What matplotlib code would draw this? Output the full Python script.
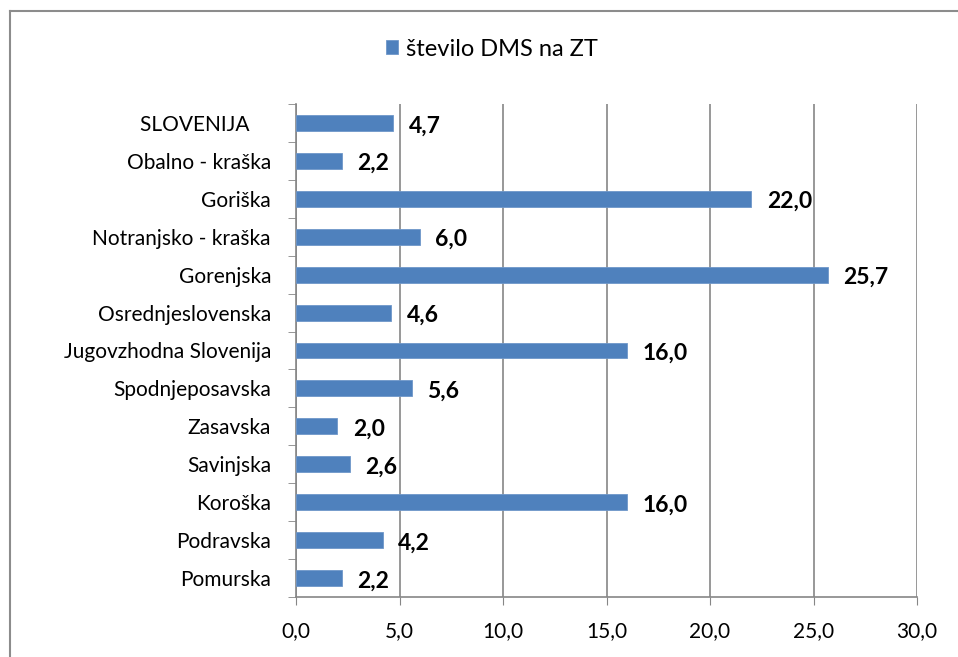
import matplotlib
matplotlib.use("Agg")
import matplotlib.pyplot as plt
from matplotlib.lines import Line2D

categories = ["SLOVENIJA    ", "Obalno - kraška", "Goriška", "Notranjsko - kraška", "Gorenjska",
              "Osrednjeslovenska", "Jugovzhodna Slovenija", "Spodnjeposavska", "Zasavska",
              "Savinjska", "Koroška", "Podravska", "Pomurska"]
values = [4.7, 2.2, 22.0, 6.0, 25.7, 4.6, 16.0, 5.6, 2.0, 2.6, 16.0, 4.2, 2.2]
xticks = [0, 5, 10, 15, 20, 25, 30]
series_name = "število DMS na ZT"

plt.rcParams['font.family'] = ['Lato', 'DejaVu Sans']

W, H = 958, 657
fig = plt.figure(figsize=(W/100, H/100), dpi=100)
# chart frame: only top and left edges visible
fig.add_artist(Line2D([10/W, 1.0], [1 - 11/H, 1 - 11/H], transform=fig.transFigure,
                      color='#8c8c8c', linewidth=1.5))
fig.add_artist(Line2D([10/W, 10/W], [0, 1 - 11/H], transform=fig.transFigure,
                      color='#8c8c8c', linewidth=1.5))

ax = fig.add_axes([296/W, 1 - 597/H, (917-296)/W, (597-104)/H])
bar_color = '#4f81bd'
n = len(categories)
ypos = list(range(n))
bars = ax.barh(ypos, values, height=0.42, color=bar_color, edgecolor='#6f97c9', linewidth=0.6,
               zorder=3, label=series_name)
ax.set_ylim(n - 0.5, -0.5)
ax.set_xlim(0, 30)
ax.set_xticks(xticks)
ax.set_xticklabels([f"{t:.1f}".replace('.', ',') for t in xticks], fontsize=15)
ax.set_yticks(ypos)
ax.set_yticklabels(categories, fontsize=15)
ax.tick_params(axis='y', length=0, pad=18)
ax.tick_params(axis='x', length=6, color='#868686', pad=11)
ax.set_yticks([i - 0.5 for i in range(n + 1)], minor=True)
ax.tick_params(axis='y', which='minor', length=6, color='#868686')
ax.grid(axis='x', color='#868686', linewidth=1.2, zorder=0)
for s in ['top', 'right']:
    ax.spines[s].set_visible(False)
for s in ['left', 'bottom']:
    ax.spines[s].set_color('#868686')
    ax.spines[s].set_linewidth(1.2)

for y, v in zip(ypos, values):
    ax.annotate(f"{v:.1f}".replace('.', ','), (v, y), xytext=(11, -2), textcoords='offset points',
                ha='left', va='center', fontsize=16.5, fontweight='bold', zorder=4)

fig.legend(handles=[bars], labels=[series_name], loc='center', bbox_to_anchor=(492/W, 1 - 49/H),
           frameon=False, fontsize=17, handlelength=0.5, handleheight=0.5, handletextpad=0.35)

fig.savefig("out.png", dpi=100)
